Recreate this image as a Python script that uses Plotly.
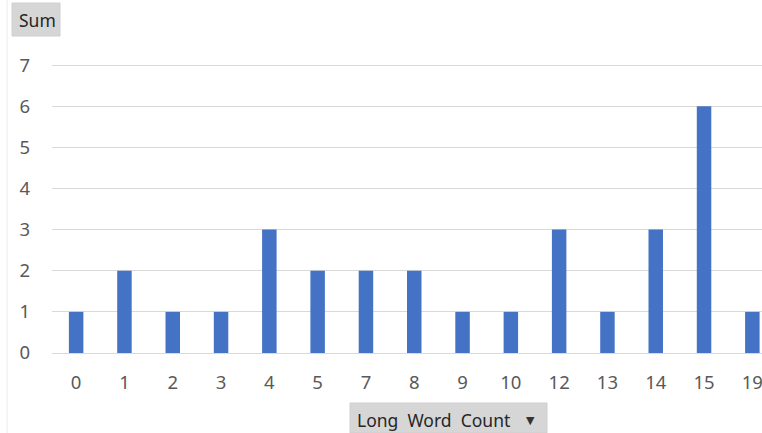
import plotly.graph_objects as go

# Pivot chart: count of items per "Long Word Count" value
word_counts = ["0", "1", "2", "3", "4", "5", "7", "8", "9", "10", "12", "13", "14", "15", "19"]
sums = [1, 2, 1, 1, 3, 2, 2, 2, 1, 1, 3, 1, 3, 6, 1]
y_ticks = [0, 1, 2, 3, 4, 5, 6, 7]

W, H = 762, 433
L, R, T, B = 52, 0, 61, 80
plot_w = W - L - R
plot_h = H - T - B


def px_x(px):
    return (px - L) / plot_w


def px_y(py):
    return (H - B - py) / plot_h


FONT = "Noto Sans"
LABEL = "#595959"
GRID = "#d9d9d9"

fig = go.Figure(
    go.Bar(
        x=word_counts,
        y=sums,
        marker=dict(color="#4472C4", line=dict(width=0)),
        hoverinfo="x+y",
    )
)

fig.update_layout(
    width=W,
    height=H,
    margin=dict(l=L, r=R, t=T, b=B),
    paper_bgcolor="white",
    plot_bgcolor="white",
    bargap=0.70,
    showlegend=False,
    font=dict(family=FONT, size=18, color=LABEL),
)

fig.update_xaxes(
    type="category",
    range=[-0.5, 14.2],
    showgrid=False,
    showline=False,
    zeroline=False,
    ticks="",
    ticklabelstandoff=16,
    tickfont=dict(family=FONT, size=18.5, color=LABEL),
)

fig.update_yaxes(
    range=[0, 7.1],
    tickvals=y_ticks,
    showgrid=True,
    gridcolor=GRID,
    gridwidth=1,
    zeroline=True,
    zerolinecolor=GRID,
    zerolinewidth=1,
    showline=False,
    ticks="",
    ticklabelstandoff=21,
    tickfont=dict(family=FONT, size=18.5, color=LABEL),
)

# Faint chart-area border on the left
fig.add_shape(
    type="line", xref="paper", yref="paper",
    x0=px_x(7), x1=px_x(7), y0=px_y(0), y1=px_y(433),
    line=dict(color="#ececec", width=1), layer="below",
)

# "Sum" value-field button
fig.add_shape(
    type="rect", xref="paper", yref="paper",
    x0=px_x(12), x1=px_x(60), y0=px_y(36), y1=px_y(3),
    fillcolor="#d6d6d6", line=dict(color="#cfcfcf", width=1),
)
fig.add_annotation(
    xref="paper", yref="paper", x=px_x(37), y=px_y(19.5),
    text="Sum", showarrow=False,
    font=dict(family=FONT, size=17.5, color="#262626"),
    xanchor="center", yanchor="middle",
)

# "Long Word Count" axis-field button with dropdown arrow
fig.add_shape(
    type="rect", xref="paper", yref="paper",
    x0=px_x(350), x1=px_x(547), y0=px_y(433), y1=px_y(403),
    fillcolor="#d6d6d6", line=dict(color="#cfcfcf", width=1),
)
fig.add_annotation(
    xref="paper", yref="paper", x=px_x(355), y=px_y(420),
    text="Long  Word  Count", showarrow=False,
    font=dict(family=FONT, size=17.5, color="#262626"),
    xanchor="left", yanchor="middle",
)
fig.add_annotation(
    xref="paper", yref="paper", x=px_x(530), y=px_y(420),
    text="▼", showarrow=False,
    font=dict(family="DejaVu Sans", size=11, color="#333333"),
    xanchor="center", yanchor="middle",
)

fig.write_html("out.html")
